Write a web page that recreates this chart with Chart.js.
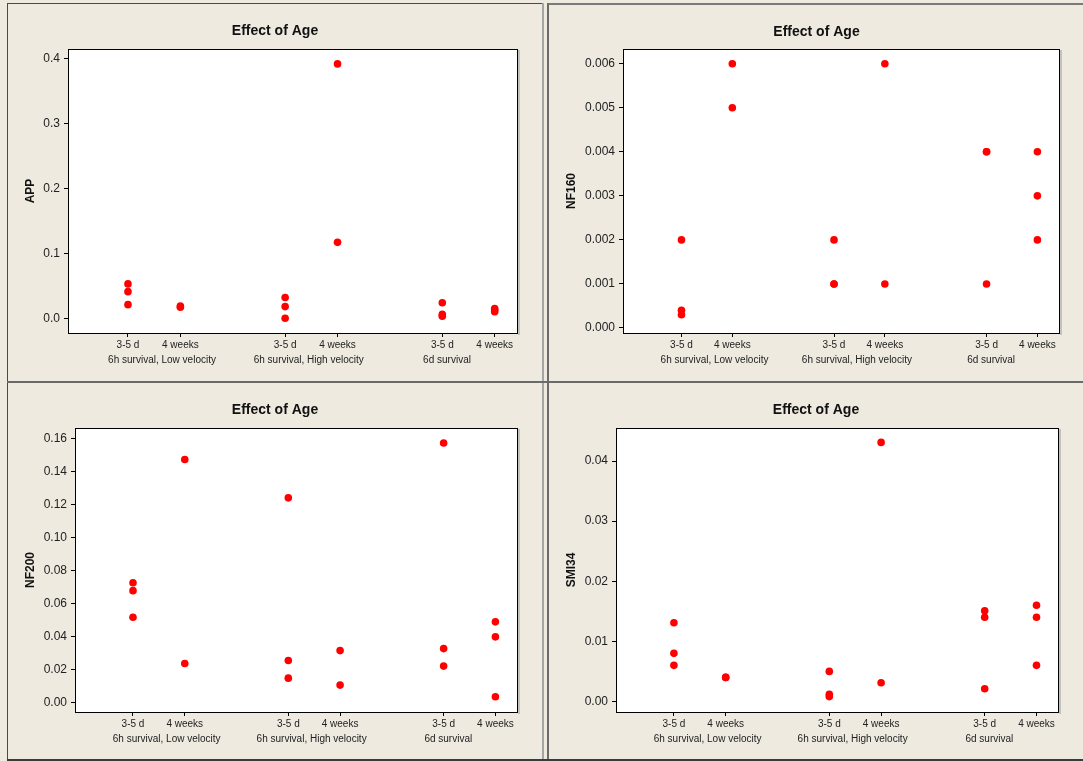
<!DOCTYPE html>
<html>
<head>
<meta charset="utf-8">
<script src="https://cdn.jsdelivr.net/npm/chart.js@4/dist/chart.umd.min.js"></script>
<style>
    html, body { margin: 0; padding: 0; }
    body { width: 1083px; height: 761px; background: #eeeae0; position: relative; overflow: hidden; }
    canvas { position: absolute; }
    .ln { position: absolute; }
</style>
</head>
<body>
<!-- рамки панелей -->
<div class="ln" style="left:7px; top:3px; width:536px; height:1px; background:#4a4a4a"></div>
<div class="ln" style="left:547px; top:3px; width:536px; height:2px; background:#7a7a7a"></div>
<div class="ln" style="left:7px; top:3px; width:1px; height:758px; background:#4a4a4a"></div>
<div class="ln" style="left:542px; top:3px; width:2px; height:758px; background:#a5a5a5"></div>
<div class="ln" style="left:547px; top:3px; width:2px; height:758px; background:#6a6a6a"></div>
<div class="ln" style="left:7px; top:381px; width:1076px; height:2px; background:#6a6a6a"></div>
<div class="ln" style="left:7px; top:759px; width:1076px; height:2px; background:#3a3a3a"></div>

<canvas id="app" width="534" height="376" style="left:8px; top:4px"></canvas>
<canvas id="nf160" width="535" height="376" style="left:549px; top:5px"></canvas>
<canvas id="nf200" width="534" height="376" style="left:8px; top:383px"></canvas>
<canvas id="smi34" width="534" height="376" style="left:549px; top:383px"></canvas>

<script>
// группы и возраст
const groups = ["6h survival, Low velocity", "6h survival, High velocity", "6d survival"];
const ages = ["3-5 d", "4 weeks"];

// значения по ячейкам: группа за группой, внутри группы 3-5 d, потом 4 weeks
const appValues = [
    [0.053, 0.041, 0.021], [0.017, 0.019],
    [0.032, 0.018, 0.000], [0.392, 0.117],
    [0.024, 0.006, 0.003], [0.015, 0.013, 0.010]
];
const nf160Values = [
    [0.002, 0.0004, 0.0003], [0.006, 0.005],
    [0.002, 0.001, 0.001], [0.006, 0.001],
    [0.004, 0.004, 0.001], [0.004, 0.003, 0.002]
];
const nf200Values = [
    [0.0727, 0.0679, 0.0518], [0.1473, 0.0238],
    [0.1241, 0.0256, 0.0149], [0.0316, 0.0107],
    [0.1573, 0.0328, 0.0222], [0.049, 0.0399, 0.0036]
];
const smi34Values = [
    [0.0131, 0.008, 0.006], [0.004, 0.004],
    [0.005, 0.0012, 0.0008], [0.0431, 0.0031],
    [0.0151, 0.014, 0.0021], [0.016, 0.014, 0.006]
];

// метки по оси Y
const appTicks = [0.0, 0.1, 0.2, 0.3, 0.4];
const nf160Ticks = [0.000, 0.001, 0.002, 0.003, 0.004, 0.005, 0.006];
const nf200Ticks = [0.00, 0.02, 0.04, 0.06, 0.08, 0.10, 0.12, 0.14, 0.16];
const smi34Ticks = [0.00, 0.01, 0.02, 0.03, 0.04];

const FONT = "'Liberation Sans', Arial, sans-serif";
const cellX = (i) => Math.floor(i / 2) * 3 + (i % 2) + 1;
// сдвиг подписи группы от первой метки группы
const groupShift = [0.65, 0.45, 0.09];

// фон области, рамка, заголовок, подписи групп
const panelDecor = {
    id: "panelDecor",
    beforeDraw(chart) {
        const a = chart.chartArea, ctx = chart.ctx;
        ctx.save();
        ctx.fillStyle = "#ffffff";
        ctx.fillRect(a.left, a.top, a.right - a.left, a.bottom - a.top);
        ctx.restore();
    },
    afterDraw(chart, args, opts) {
        const a = chart.chartArea, ctx = chart.ctx;
        ctx.save();
        ctx.strokeStyle = "#000";
        ctx.lineWidth = 1;
        ctx.strokeRect(a.left + 0.5, a.top + 0.5, a.right - a.left, a.bottom - a.top);
        ctx.strokeStyle = "#9a9a9a";
        ctx.beginPath();
        ctx.moveTo(a.right + 2, a.top + 1);
        ctx.lineTo(a.right + 2, a.bottom + 2);
        ctx.stroke();

        ctx.fillStyle = "#111";
        ctx.textAlign = "center";
        ctx.textBaseline = "middle";
        ctx.font = "bold 14px " + FONT;
        ctx.fillText("Effect of Age", chart.width / 2, 27);

        ctx.font = "bold 12px " + FONT;
        ctx.save();
        ctx.translate(22.5, (a.top + a.bottom) / 2);
        ctx.rotate(-Math.PI / 2);
        ctx.fillText(opts.yTitle, 0, 0);
        ctx.restore();

        ctx.fillStyle = "#222";
        ctx.font = "10px " + FONT;
        const xs = chart.scales.x;
        groups.forEach((g, k) => {
            ctx.fillText(g, xs.getPixelForValue(k * 3 + 1 + groupShift[k]), a.bottom + 27);
        });
        ctx.restore();
    }
};

const makeChart = (id, yTitle, values, ticks, decimals, f) => {
    const points = [];
    values.forEach((cell, i) => cell.forEach(v => points.push({x: cellX(i), y: v})));
    const canvas = document.getElementById(id);

    new Chart(canvas.getContext("2d"), {
        type: "scatter",
        data: {
            datasets: [{
                data: points,
                backgroundColor: "#ff0000",
                borderColor: "#ff0000",
                borderWidth: 0,
                pointRadius: 3.8,
                pointHoverRadius: 3.8
            }]
        },
        plugins: [panelDecor],
        options: {
            responsive: false,
            animation: false,
            devicePixelRatio: 1,
            layout: {
                padding: {left: 0, top: f.top, right: canvas.width - f.right, bottom: 0}
            },
            plugins: {
                legend: {display: false},
                tooltip: {enabled: false},
                panelDecor: {yTitle: yTitle}
            },
            scales: {
                x: {
                    type: "linear",
                    min: f.xMin,
                    max: f.xMax,
                    afterFit: (s) => { s.height = canvas.height - f.bottom; },
                    afterBuildTicks: (s) => { s.ticks = values.map((c, i) => ({value: cellX(i)})); },
                    border: {display: false},
                    grid: {drawOnChartArea: false, drawTicks: true, tickLength: 4, color: "#000"},
                    ticks: {
                        autoSkip: false,
                        maxRotation: 0,
                        padding: 2,
                        color: "#222",
                        font: {family: FONT, size: 10},
                        callback: (v) => ages[(v - 1) % 3]
                    }
                },
                y: {
                    min: f.yMin,
                    max: f.yMax,
                    afterFit: (s) => { s.width = f.left; },
                    afterBuildTicks: (s) => { s.ticks = ticks.map(v => ({value: v})); },
                    border: {display: false},
                    grid: {drawOnChartArea: false, drawTicks: true, tickLength: 4, color: "#000"},
                    ticks: {
                        padding: 4,
                        color: "#222",
                        font: {family: FONT, size: 12},
                        callback: (v) => Number(v).toFixed(decimals)
                    }
                }
            }
        }
    });
}

makeChart("app", "APP", appValues, appTicks, 1,
    {left: 60, right: 509, top: 45, bottom: 329, xMin: -0.145, xMax: 8.426, yMin: -0.0227, yMax: 0.415});
makeChart("nf160", "NF160", nf160Values, nf160Ticks, 3,
    {left: 74, right: 510, top: 44, bottom: 328, xMin: -0.15, xMax: 8.425, yMin: -0.000114, yMax: 0.006334});
makeChart("nf200", "NF200", nf200Values, nf200Ticks, 2,
    {left: 67, right: 509, top: 45, bottom: 329, xMin: -0.12, xMax: 8.417, yMin: -0.0056, yMax: 0.1664});
makeChart("smi34", "SMI34", smi34Values, smi34Ticks, 2,
    {left: 67, right: 509, top: 45, bottom: 329, xMin: -0.118, xMax: 8.415, yMin: -0.00176, yMax: 0.0455});
</script>
</body>
</html>
